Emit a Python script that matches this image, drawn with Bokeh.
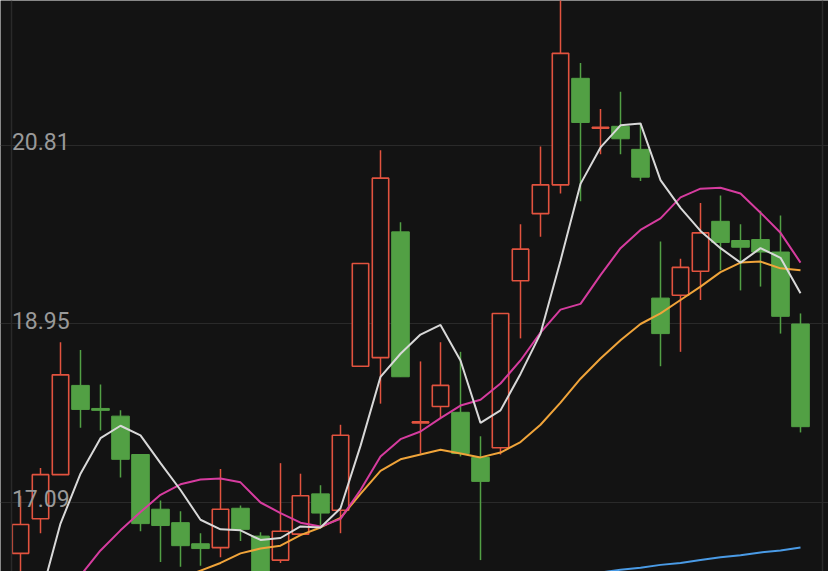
from bokeh.plotting import figure
from bokeh.models import Range1d, FixedTicker, Span
from bokeh.core.properties import value
from bokeh.embed import file_html
from bokeh.resources import INLINE

# ---------------- data ----------------
opens = [16.56, 16.92, 17.38, 18.31, 18.07, 17.99, 17.59, 17.02, 16.88, 16.66,
         16.62, 17.03, 16.74, 16.49, 16.76, 17.18, 17.01, 18.51, 18.60, 19.91,
         17.92, 18.09, 18.03, 17.56, 17.66, 19.40, 20.10, 20.40, 21.51, 20.99,
         21.01, 20.77, 19.22, 19.25, 19.50, 20.02, 19.82, 19.83, 19.70, 18.95]
closes = [16.86, 17.38, 18.42, 18.06, 18.05, 17.54, 16.87, 16.85, 16.64, 16.61,
          17.02, 16.81, 16.07, 16.79, 17.16, 16.98, 17.79, 19.58, 20.47, 18.40,
          17.93, 18.31, 17.60, 17.31, 19.06, 19.73, 20.40, 21.77, 21.05, 21.00,
          20.88, 20.48, 18.85, 19.54, 19.90, 19.80, 19.75, 19.70, 19.03, 17.88]
highs = [17.16, 17.45, 18.76, 18.68, 18.32, 18.05, 17.59, 17.11, 17.00, 16.77,
         17.44, 17.06, 16.78, 17.50, 17.39, 17.27, 17.90, 19.58, 20.76, 20.01,
         18.56, 18.76, 18.66, 17.78, 19.06, 19.99, 20.80, 22.43, 21.67, 21.19,
         21.37, 21.04, 19.81, 19.63, 20.21, 20.29, 19.99, 20.13, 20.08, 19.06]
lows = [16.23, 16.77, 17.38, 17.87, 17.84, 17.35, 16.79, 16.47, 16.42, 16.43,
        16.52, 16.69, 16.00, 16.46, 16.74, 16.85, 16.77, 18.51, 18.12, 18.40,
        17.60, 17.97, 17.57, 16.49, 17.59, 18.80, 19.86, 20.31, 20.23, 20.72,
        20.72, 20.44, 18.51, 18.66, 19.20, 19.51, 19.30, 19.34, 18.85, 17.82]

ma5 = [15.24, 16.10, 16.87, 17.39, 17.76, 17.89, 17.79, 17.50, 17.22, 16.91,
       16.81, 16.80, 16.70, 16.72, 16.84, 16.83, 17.03, 17.68, 18.40, 18.64,
       18.84, 18.94, 18.57, 17.92, 18.05, 18.43, 18.85, 19.61, 20.41, 20.79,
       21.02, 21.04, 20.45, 20.16, 19.92, 19.74, 19.59, 19.74, 19.64, 19.27]
ma10 = [15.18, 15.60, 15.99, 16.33, 16.59, 16.80, 16.99, 17.17, 17.28, 17.33,
        17.34, 17.30, 17.09, 16.98, 16.88, 16.84, 16.92, 17.22, 17.57, 17.75,
        17.83, 17.97, 18.10, 18.16, 18.33, 18.57, 18.86, 19.10, 19.16, 19.46,
        19.74, 19.93, 20.05, 20.27, 20.36, 20.37, 20.31, 20.11, 19.90, 19.59]
ma20 = [15.55, 15.65, 15.76, 15.86, 15.95, 16.05, 16.13, 16.21, 16.30, 16.38,
        16.46, 16.56, 16.61, 16.64, 16.75, 16.83, 16.93, 17.18, 17.42, 17.54,
        17.59, 17.64, 17.60, 17.56, 17.61, 17.72, 17.90, 18.13, 18.38, 18.59,
        18.78, 18.95, 19.06, 19.20, 19.34, 19.49, 19.59, 19.60, 19.53, 19.51]
nan = float("nan")
ma60 = [nan] * 28 + [16.33, 16.36, 16.39, 16.41, 16.44, 16.46,
                     16.49, 16.52, 16.54, 16.57, 16.59, 16.62]

tick_values = [17.09, 18.95, 20.81]
tick_labels = ["17.09", "18.95", "20.81"]

# ---------------- styling ----------------
BG = "#131313"
RED = "#e2533f"
GREEN = "#52a044"
GRID = "#2a2a2a"

idx = list(range(len(opens)))
up = [c >= o for o, c in zip(opens, closes)]

p = figure(width=828, height=571, output_backend="svg", toolbar_location=None,
           x_range=Range1d(-1.0, 40.4), y_range=Range1d(16.3710, 22.3209),
           min_border=0)
p.background_fill_color = BG
p.border_fill_color = BG
p.outline_line_color = None
p.xaxis.visible = False
p.yaxis.visible = False
p.xgrid.grid_line_color = None
p.ygrid.ticker = FixedTicker(ticks=tick_values)
p.ygrid.grid_line_color = GRID
p.ygrid.grid_line_width = 1

p.add_layout(Span(location=-0.45, dimension="height", line_color=GRID, line_width=1.5))
p.add_layout(Span(location=40.1, dimension="height", line_color=GRID, line_width=1.5))

wick_colors = [RED if u else GREEN for u in up]
p.segment(x0=idx, y0=highs, x1=idx, y1=lows, line_color=wick_colors, line_width=1.5)

gx = [i for i in idx if not up[i]]
p.vbar(x=gx, width=0.88, top=[opens[i] for i in gx], bottom=[closes[i] for i in gx],
       fill_color=GREEN, line_color=GREEN, line_width=1)

rx = [i for i in idx if up[i]]
p.vbar(x=rx, width=0.82, top=[closes[i] for i in rx], bottom=[opens[i] for i in rx],
       fill_color=BG, line_color=RED, line_width=1.6)

p.line(idx, ma20, line_color="#f0a43a", line_width=2)
p.line(idx, ma10, line_color="#d63c9f", line_width=2)
p.line(idx, ma5, line_color="#d8d8d8", line_width=2)
p.line(idx, ma60, line_color="#4a9be6", line_width=2)

p.text(x=[-0.43] * len(tick_values), y=tick_values, text=tick_labels,
       text_font=value("Roboto"), text_font_size="23px", text_color="#999999",
       text_align="left", text_baseline="alphabetic", y_offset=-3.5)

html = file_html(p, INLINE)
html = html.replace("<body>", '<body style="background-color:#131313;">', 1)
open("out.html", "w").write(html)
